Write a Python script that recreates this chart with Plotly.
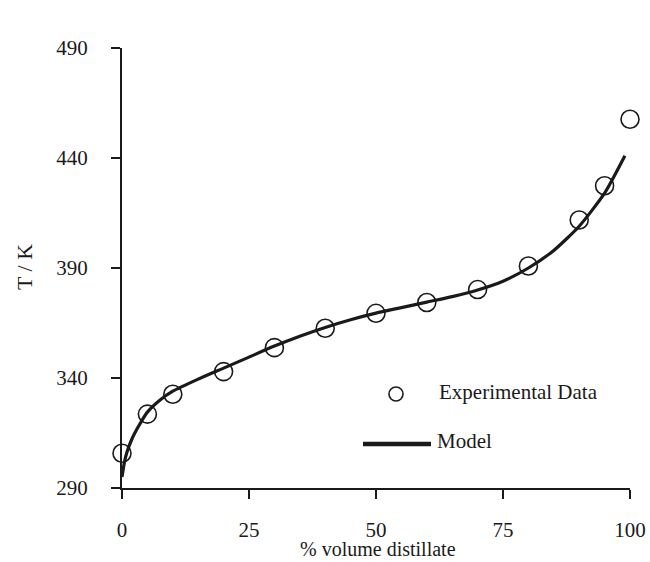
import plotly.graph_objects as go

# Measured distillation temperatures
exp_volume = [0, 5, 10, 20, 30, 40, 50, 60, 70, 80, 90, 95, 100]
exp_temp = [305.8, 323.6, 332.6, 342.9, 353.8, 362.6, 369.4, 374.3, 380.2, 390.9, 411.8, 427.4, 457.6]

# Model prediction
model_volume = [0, 0.5, 1, 2, 3, 4, 5, 7.5, 10, 15, 20, 25, 30, 35, 40, 45, 50,
                55, 60, 65, 70, 75, 80, 85, 90, 95, 99]
model_temp = [295, 302, 306.5, 312.5, 317, 321, 324.5, 330, 334, 339.5, 344.5, 349.5,
              354.5, 359, 363, 366.5, 369.5, 372, 374.5, 377, 380, 384, 390, 398,
              409, 424, 441]

x_ticks = [0, 25, 50, 75, 100]
y_ticks = [290, 340, 390, 440, 490]

FONT = "Liberation Serif"
INK = "#1a1a1a"
FS = 21

fig = go.Figure()

fig.add_trace(go.Scatter(
    x=model_volume, y=model_temp, mode="lines",
    line=dict(color=INK, width=3.2, shape="spline", smoothing=0.6),
    name="Model", showlegend=False,
))

fig.add_trace(go.Scatter(
    x=exp_volume, y=exp_temp, mode="markers",
    marker=dict(symbol="circle-open", size=18, color=INK, line=dict(width=1.6, color=INK)),
    name="Experimental Data", showlegend=False, cliponaxis=False,
))

# Hand-placed legend entries and axis titles (pixel positions -> paper coords)
W, H = 650, 562
ml, mr, mt, mb = 122, 20, 48, 74
pw, ph = W - ml - mr, H - mt - mb


def px(xp):
    return (xp - ml) / pw


def py(yp):
    return 1 - (yp - mt) / ph


fig.add_shape(type="circle", xref="paper", yref="paper",
              x0=px(389), x1=px(403), y0=py(401), y1=py(387),
              line=dict(color=INK, width=1.6))
fig.add_shape(type="line", xref="paper", yref="paper",
              x0=px(363), x1=px(431), y0=py(444), y1=py(444),
              line=dict(color=INK, width=4.5))
fig.add_annotation(xref="paper", yref="paper", x=px(437), y=py(392),
                   text="Experimental Data", showarrow=False, xanchor="left",
                   yanchor="middle", font=dict(family=FONT, size=FS, color=INK))
fig.add_annotation(xref="paper", yref="paper", x=px(435), y=py(441),
                   text="Model", showarrow=False, xanchor="left",
                   yanchor="middle", font=dict(family=FONT, size=FS, color=INK))

fig.add_annotation(xref="paper", yref="paper", x=px(378), y=py(549),
                   text="% volume distillate", showarrow=False, xanchor="center",
                   yanchor="middle", font=dict(family=FONT, size=FS - 1, color=INK))
fig.add_annotation(xref="paper", yref="paper", x=px(24), y=py(267),
                   text="T / K", showarrow=False, textangle=-90, xanchor="center",
                   yanchor="middle", font=dict(family=FONT, size=FS + 1, color=INK))

axis_common = dict(
    showgrid=False, zeroline=False, showline=True, linecolor=INK, linewidth=2,
    ticks="outside", ticklen=9, tickwidth=1.5, tickcolor=INK,
    tickfont=dict(family=FONT, size=FS, color=INK), automargin=False,
)

fig.update_xaxes(range=[0, 100], tickvals=x_ticks, ticktext=[str(v) for v in x_ticks],
                 ticklabelstandoff=13, **axis_common)
fig.update_yaxes(range=[290, 490], tickvals=y_ticks, ticktext=[str(v) for v in y_ticks],
                 ticklabelstandoff=19, **axis_common)

fig.update_layout(
    width=W, height=H,
    margin=dict(l=ml, r=mr, t=mt, b=mb),
    paper_bgcolor="white", plot_bgcolor="white",
    showlegend=False,
)

fig.write_html("out.html")
